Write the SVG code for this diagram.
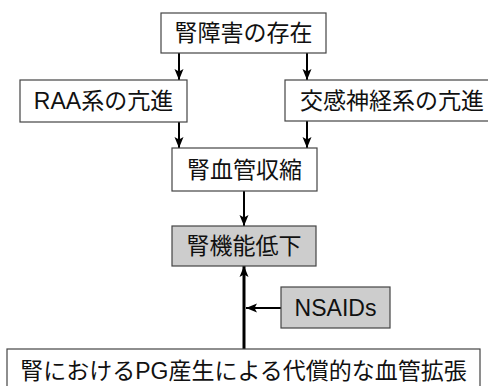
<svg xmlns="http://www.w3.org/2000/svg" width="488" height="386" viewBox="0 0 488 386">
<defs>
<marker id="ah" markerUnits="userSpaceOnUse" markerWidth="12" markerHeight="10" viewBox="0 0 12 10" refX="11" refY="5" orient="auto">
<path d="M0,0.5 L11,5 L0,9.5 L2.5,5 Z" fill="#000"/>
</marker>
<style>
.box{fill:#fff;stroke:#444;stroke-width:1.2}
.gray{fill:#cdcdcd;stroke:#444;stroke-width:1.2}
text{font-family:"Liberation Sans","Noto Sans CJK JP",sans-serif;font-size:23px;fill:#111;text-anchor:middle;dominant-baseline:central}
.c{stroke:#000;stroke-width:2;fill:none;marker-end:url(#ah)}
.thick{stroke-width:3}
</style>
</defs>
<rect width="488" height="386" fill="#fff"/>
<g id="connectors">
<line class="c" x1="179" y1="53" x2="179" y2="80"/>
<line class="c" x1="307" y1="53" x2="307" y2="80"/>
<line class="c" x1="179" y1="122" x2="179" y2="148"/>
<line class="c" x1="307" y1="121" x2="307" y2="148"/>
<line class="c" x1="244" y1="191" x2="244" y2="226"/>
<line class="c thick" x1="244" y1="349" x2="244" y2="266"/>
<line class="c" x1="281" y1="308" x2="246" y2="308"/>
</g>
<g id="n1"><rect class="box" x="161" y="13" width="165" height="40"/><text x="243.5" y="33">腎障害の存在</text></g>
<g id="n2"><rect class="box" x="20" y="80" width="167" height="42"/><text x="103.5" y="101">RAA系の亢進</text></g>
<g id="n3"><rect class="box" x="285" y="80" width="214" height="41"/><text x="392" y="100.5">交感神経系の亢進</text></g>
<g id="n4"><rect class="box" x="172" y="148" width="145" height="43"/><text x="244.5" y="169.5">腎血管収縮</text></g>
<g id="n5"><rect class="gray" x="172" y="226" width="144" height="40"/><text x="244" y="246">腎機能低下</text></g>
<g id="n6"><rect class="gray" x="281" y="287" width="109" height="41"/><text x="335.5" y="307.5">NSAIDs</text></g>
<g id="n7"><rect class="box" x="7" y="349" width="473" height="44"/><text x="243.5" y="371">腎におけるPG産生による代償的な血管拡張</text></g>
</svg>
